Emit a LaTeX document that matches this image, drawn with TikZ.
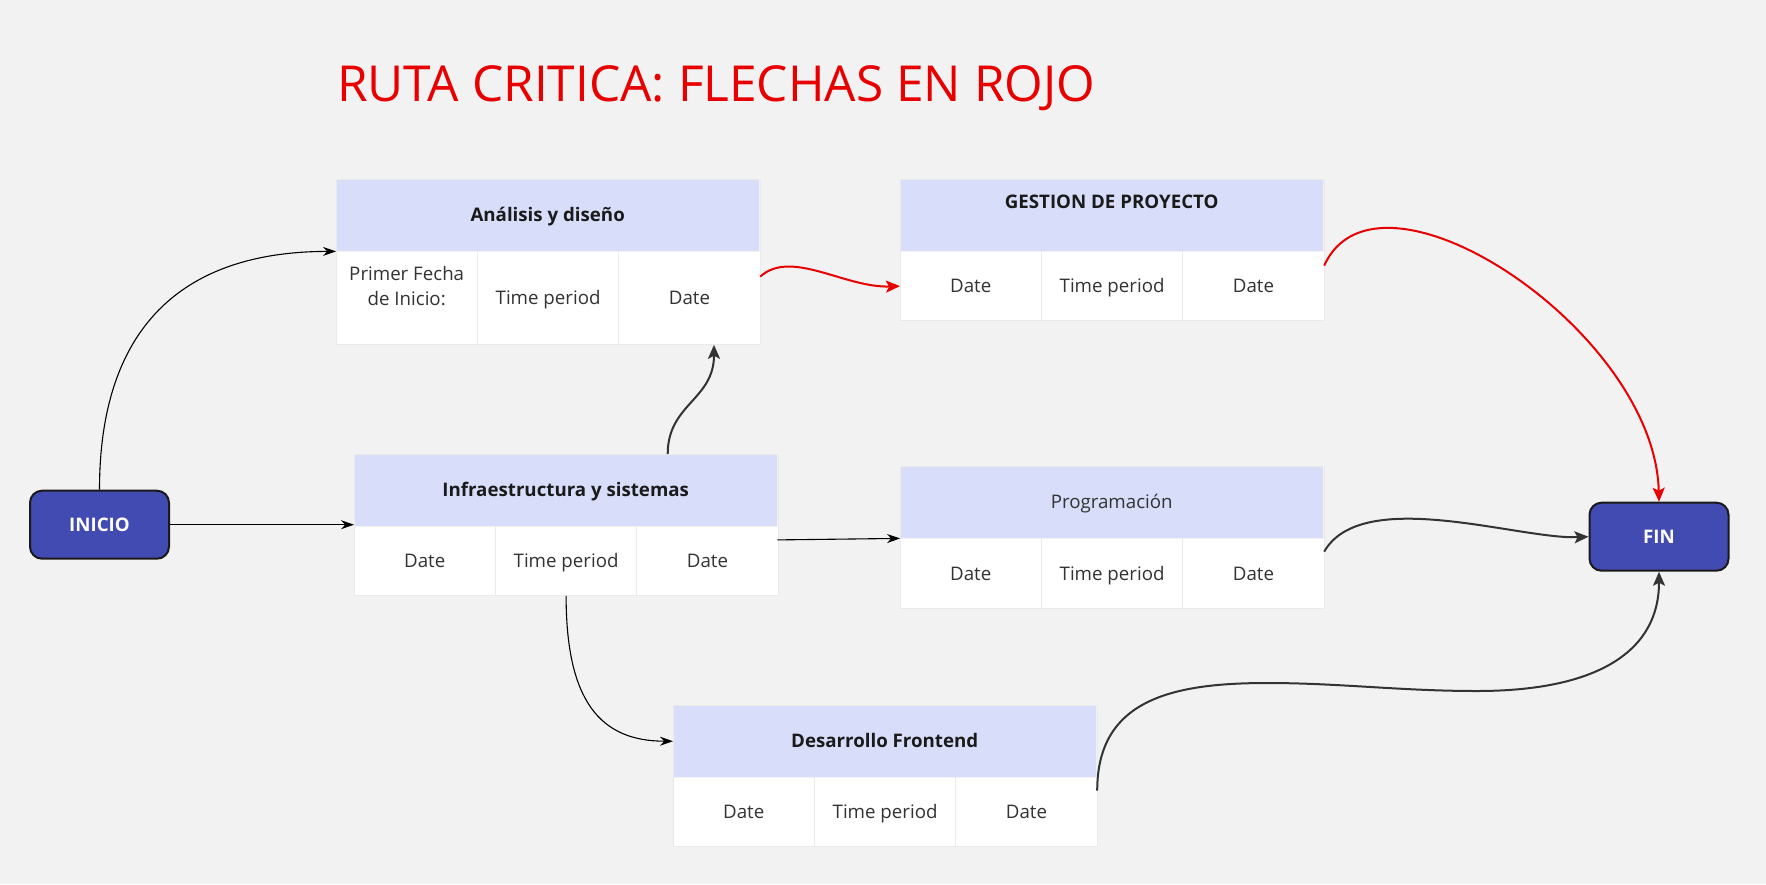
\documentclass[tikz,border=0pt]{standalone}
\usepackage{fontspec}
\setmainfont{Open Sans}
\usetikzlibrary{arrows.meta}
\definecolor{bg}{RGB}{242,242,242}
\definecolor{hdr}{RGB}{216,222,250}
\definecolor{ink}{RGB}{26,26,26}
\definecolor{dark}{RGB}{51,51,51}
\definecolor{crit}{RGB}{232,0,0}
\definecolor{miro}{RGB}{65,75,178}
\definecolor{gridc}{RGB}{234,234,234}
\tikzset{
  hdrbox/.style={rectangle, fill=hdr, minimum width=423pt, minimum height=72pt, inner sep=0pt, draw=none},
  cellbox/.style={rectangle, fill=white, minimum width=141pt, inner sep=0pt, draw=none,
    font=\fontsize{18.7}{25.6}\selectfont, text=dark, align=center, text height=13.4pt, text depth=0pt},
  htext/.style={font=\fontsize{18.7}{22}\selectfont\bfseries, text=ink, inner sep=0pt, text height=13.4pt, text depth=0pt},
  ptext/.style={font=\fontsize{18.7}{22}\selectfont, text=dark, inner sep=0pt, text height=13.4pt, text depth=0pt},
  ctext/.style={font=\fontsize{18.7}{25.6}\selectfont, text=dark, inner sep=0pt, align=center},
  endnode/.style={rectangle, rounded corners=12pt, fill=miro, draw=ink, line width=2pt,
    minimum width=139pt, minimum height=68pt, text=white, font=\fontsize{18.7}{22}\selectfont\bfseries,
    text height=13.4pt, text depth=0pt},
  lnthin/.style={draw=black, line width=1.1pt, -{Stealth[length=13pt,width=9pt]}},
  lnthick/.style={draw=dark, line width=2pt, -{Stealth[length=14pt,width=12pt,inset=3pt]}},
  lncrit/.style={draw=crit, line width=2pt, -{Stealth[length=14pt,width=12pt,inset=3pt]}},
}
% #1 name, #2 left, #3 top, #4 body height, #5 #6 #7 cell texts
\newcommand\mktable[7]{%
  \node[hdrbox, anchor=north west] (#1h) at (#2,#3) {};
  \node[cellbox, minimum height=#4pt, anchor=north west] (#1a) at (#1h.south west) {#5};
  \node[cellbox, minimum height=#4pt, anchor=north west] (#1b) at (#1a.north east) {#6};
  \node[cellbox, minimum height=#4pt, anchor=north west] (#1c) at (#1b.north east) {#7};
  \draw[gridc, line width=1pt] (#1a.north east) -- (#1a.south east) (#1b.north east) -- (#1b.south east);
  \draw[gridc, line width=0.8pt] (#1h.north west) rectangle (#1c.south east);
}
\begin{document}
\begin{tikzpicture}[x=1pt, y=-1pt]
\fill[bg] (0,0) rectangle (1766,884);
\useasboundingbox (0,0) rectangle (1766,884);

\node[anchor=base west, font=\fontsize{49.6}{60}\selectfont, text=crit, inner sep=0pt] (title) at (337,101.7) {RUTA CRITICA: FLECHAS EN ROJO};

\mktable{an1}{336}{179}{93}{}{Time period}{Date}
\node[ctext] (an1note) at ([yshift=12pt]an1a.center) {Primer Fecha\\de Inicio:};
\node[htext] (an1t) at (an1h.center) {Análisis y diseño};

\mktable{an2}{354}{454}{69}{Date}{Time period}{Date}
\node[htext] (an2t) at (an2h.center) {Infraestructura y sistemas};

\mktable{an3}{900}{179}{69}{Date}{Time period}{Date}
\node[htext] (an3t) at ([yshift=13pt]an3h.center) {GESTION DE PROYECTO};

\mktable{an4}{900}{466}{70}{Date}{Time period}{Date}
\node[ptext] (an4t) at (an4h.center) {Programación};

\mktable{an5}{673}{705}{69}{Date}{Time period}{Date}
\node[htext] (an5t) at (an5h.center) {Desarrollo Frontend};

\node[endnode] (inicio) at (99.5,524.7) {INICIO};
\node[endnode] (fin) at (1659,536.7) {FIN};

\coordinate (w1) at (1267,683);
\coordinate (w2) at (1477,691);

% connectors
\draw[lnthin] (inicio.north) .. controls +(0,-160) and +(-156,0) .. (an1h.south west);
\draw[lnthin] (inicio.east) -- (inicio.east -| an2h.west);
\draw[lnthick] ([xshift=102pt]an2h.north) .. controls +(0,-50) and +(0,55) .. ([xshift=24.5pt]an1c.south);
\draw[lncrit] ([yshift=21.5pt]an1c.east) .. controls +(31,-28) and +(-55,2) .. (an3a.west);
\draw[lncrit] ([yshift=20.5pt]an3c.east) .. controls +(53,-118) and +(-4,-172) .. (fin.north);
\draw[lnthin] ([yshift=-13.5pt]an2h.south east) -- (an4h.south west);
\draw[lnthick] ([yshift=22pt]an4c.east) .. controls +(38,-66) and +(-69,3) .. (fin.west);
\draw[lnthin] (an2b.south) .. controls +(0,105) and +(-73,0) .. (an5h.west);
\draw[lnthick] ([yshift=21.5pt]an5c.east) .. controls +(0,-90) and +(-97,0) .. (w1)
  .. controls +(73,0) and +(-77,0) .. (w2)
  .. controls +(120,0) and +(0,80) .. (fin.south);
\end{tikzpicture}
\end{document}
